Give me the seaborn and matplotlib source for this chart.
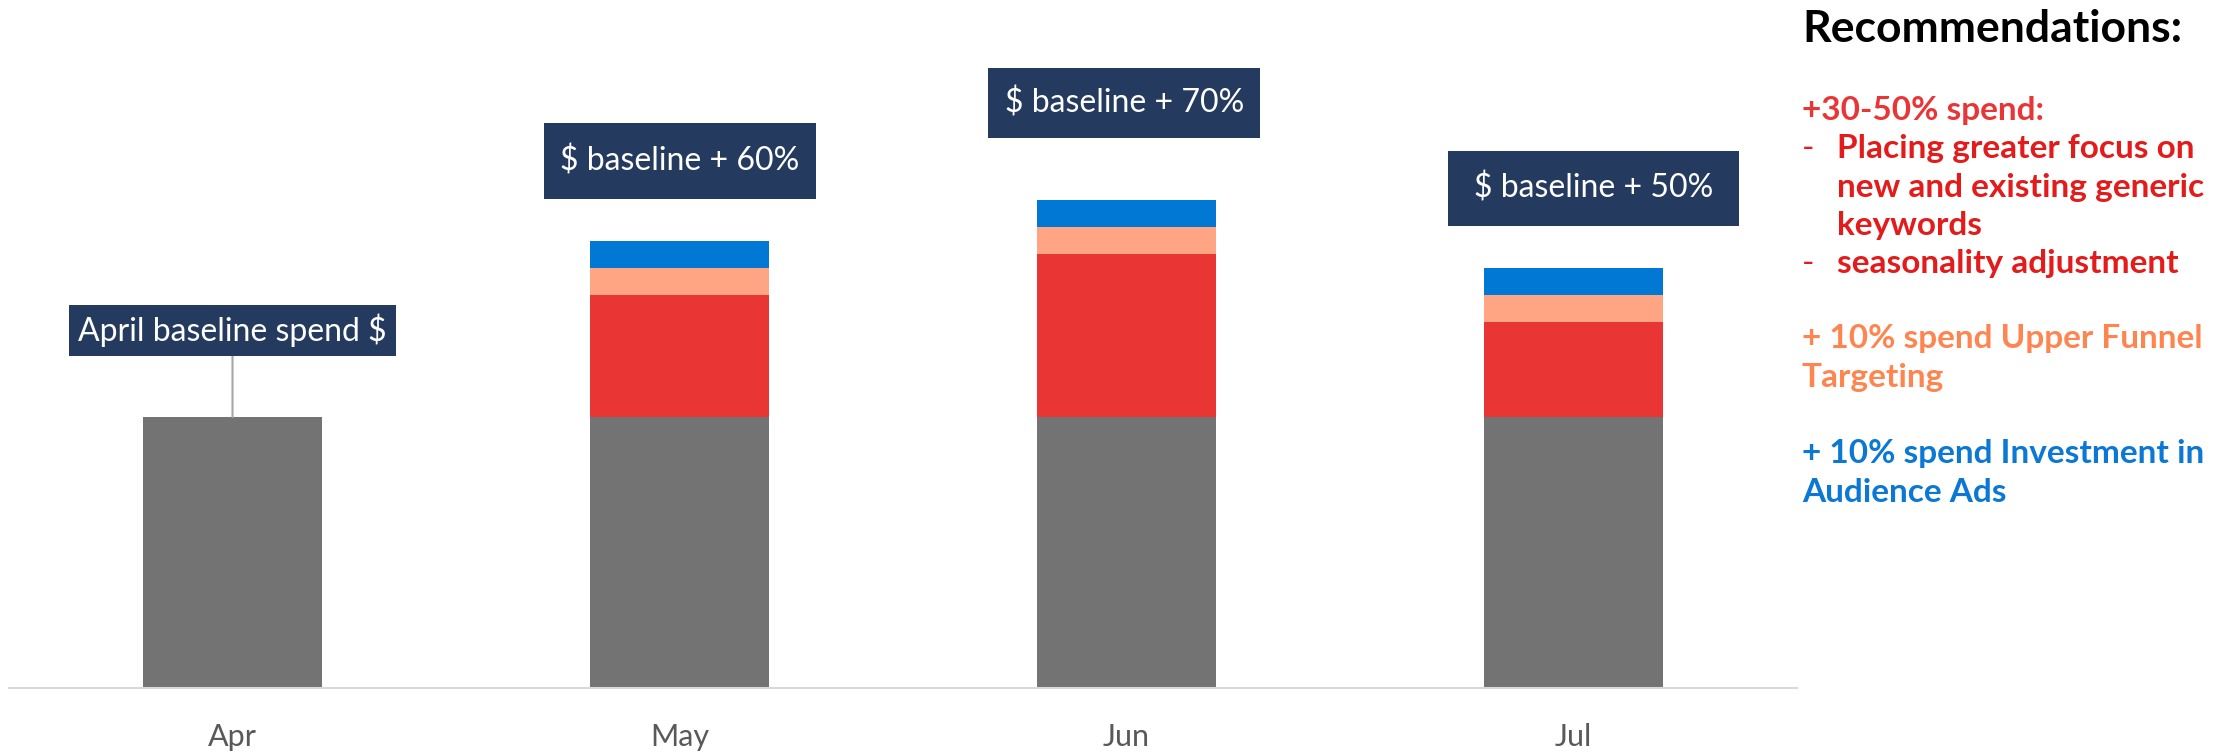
import matplotlib
matplotlib.use('Agg')
import matplotlib.pyplot as plt
from matplotlib.path import Path
import seaborn as sns
import pandas as pd

# ---------------- data ----------------
months = ['Apr', 'May', 'Jun', 'Jul']
baseline = [100, 100, 100, 100]
generic_keywords = [0, 45, 60, 35]
upper_funnel = [0, 10, 10, 10]
audience_ads = [0, 10, 10, 10]
box_labels = ['April baseline spend $', '$ baseline + 60%', '$ baseline + 70%', '$ baseline + 50%']

heading = 'Recommendations:'
red_lines = ['+30-50% spend:', 'Placing greater focus on', 'new and existing generic', 'keywords', 'seasonality adjustment']
red_bullets = ['', '-', '', '', '-']
orange_lines = ['+ 10% spend Upper Funnel', 'Targeting']
blue_lines = ['+ 10% spend Investment in', 'Audience Ads']

# ---------------- style ----------------
C_GRAY = '#737373'
C_RED = '#EA3535'
C_SALMON = '#FFA584'
C_BLUE = '#0078D4'
C_BOX = '#243A5E'
T_RED1 = '#E93535'
T_RED = '#E31B1B'
T_ORANGE = '#FF8550'
T_BLUE = '#0A78D4'

sns.set_theme(style='white')
plt.rcParams['font.family'] = ['Lato', 'DejaVu Sans']

W, H = 2239, 754
PX_PER_UNIT = 2.71  # vertical pixels per data unit
fig = plt.figure(figsize=(W / 100, H / 100), dpi=100)
ax = fig.add_axes([9 / W, 66 / H, 1788 / W, 688 / H])

df = pd.DataFrame({'month': months, 'base': baseline, 'generic': generic_keywords,
                   'upper': upper_funnel, 'aud': audience_ads})
df['c1'] = df['base']
df['c2'] = df['c1'] + df['generic']
df['c3'] = df['c2'] + df['upper']
df['c4'] = df['c3'] + df['aud']

for col, color in [('c4', C_BLUE), ('c3', C_SALMON), ('c2', C_RED), ('c1', C_GRAY)]:
    sns.barplot(data=df, x='month', y=col, order=months, color=color, saturation=1,
                width=0.4, errorbar=None, linewidth=0, ax=ax)

ax.set_xlim(-0.5, len(months) - 0.5)
ax.set_ylim(0, 688 / PX_PER_UNIT)
ax.set_yticks([])
ax.set_xlabel('')
ax.set_ylabel('')
for s in ['top', 'right', 'left']:
    ax.spines[s].set_visible(False)
ax.spines['bottom'].set_color('#D9D9D9')
ax.spines['bottom'].set_linewidth(1.5)
ax.tick_params(axis='x', length=0, pad=25, labelsize=22, labelcolor='#595959')


class FixedBox:
    """Rectangle of fixed pixel size centred on the text."""
    def __init__(self, w, h):
        self.w, self.h = w, h

    def __call__(self, x0, y0, width, height, mutation_size):
        cx = x0 + width / 2
        cy = y0 + height / 2
        l, r = cx - self.w / 2, cx + self.w / 2
        b, t = cy - self.h / 2, cy + self.h / 2
        return Path([(l, b), (r, b), (r, t), (l, t), (l, b)], closed=True)


# label boxes (layout only)
label_dx = [0.0, 0.001, -0.005, 0.045]
label_y = [132.0, 194.6, 216.0, 184.4]
box_size = [(327, 51), (272, 76), (272, 70), (291, 75)]
for i, lab in enumerate(box_labels):
    arrow = None
    if i == 0:
        arrow = dict(arrowstyle='-', color='#A6A6A6', lw=1.5, shrinkA=0, shrinkB=0)
    ax.annotate(lab, xy=(i, df['c4'][i]), xytext=(i + label_dx[i], label_y[i]), textcoords='data',
                ha='center', va='center', fontsize=23, color='white',
                bbox=dict(boxstyle=FixedBox(*box_size[i]), fc=C_BOX, ec='none'),
                arrowprops=arrow)

# ---------------- right-hand text panel ----------------
x0 = 1802 / W
x_ind = 1837 / W


def fy(px):
    return 1 - px / H


fig.text(x0, fy(42), heading, fontsize=32, fontweight='bold', color='black', va='baseline')

red_base = [120, 158, 197, 235, 273]
for j, (line, bul) in enumerate(zip(red_lines, red_bullets)):
    if j == 0:
        fig.text(x0, fy(red_base[j]), line, fontsize=24, fontweight='bold', color=T_RED1, va='baseline')
    else:
        fig.text(x_ind, fy(red_base[j]), line, fontsize=24, fontweight='bold', color=T_RED, va='baseline')
        if bul:
            fig.text(x0, fy(red_base[j]), bul, fontsize=24, color=T_RED, va='baseline')

for line, b in zip(orange_lines, [348, 387]):
    fig.text(x0, fy(b), line, fontsize=24, fontweight='bold', color=T_ORANGE, va='baseline')
for line, b in zip(blue_lines, [463, 502]):
    fig.text(x0, fy(b), line, fontsize=24, fontweight='bold', color=T_BLUE, va='baseline')

fig.savefig('out.png', dpi=100, facecolor='white')
